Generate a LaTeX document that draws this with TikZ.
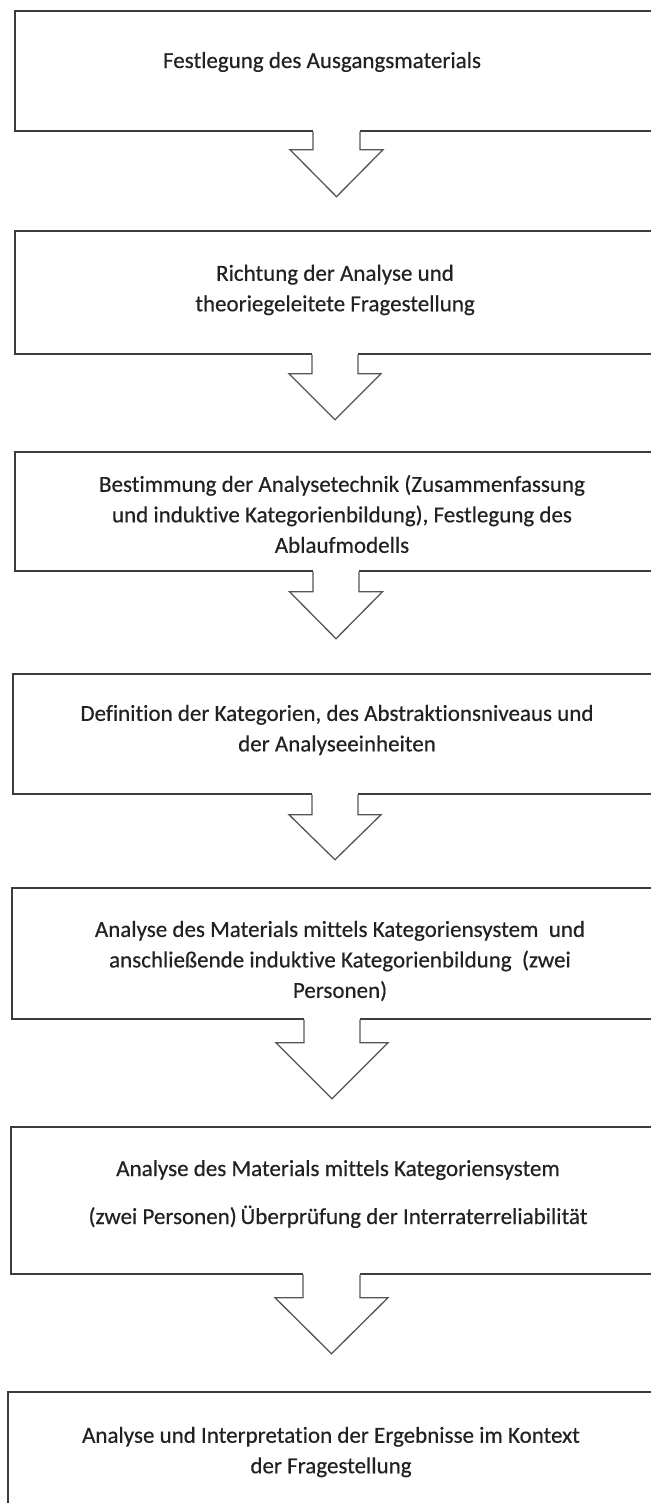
\documentclass[tikz,border=0pt]{standalone}
\usepackage{fontspec}
\setmainfont[Ligatures={NoCommon}, FakeBold=0.4]{Carlito}
\usetikzlibrary{calc}
\definecolor{boxline}{HTML}{3C3C3C}
\definecolor{arrline}{HTML}{555555}
\definecolor{txtcol}{HTML}{222222}
\tikzset{
  stepbox/.style={draw=boxline, line width=1.7pt, fill=white, rectangle, inner sep=0pt, anchor=north west},
  steptext/.style={text=txtcol, align=center, inner sep=0pt,
    font=\fontsize{23}{30.5}\selectfont},
  blockarr/.style={draw=arrline, line width=1.3pt, line join=miter, fill=white},
}
% #1 top-centre coordinate, #2 stem half width, #3 stem height, #4 head half width, #5 head height
\newcommand\BlockArrow[5]{%
  \fill[white] ($(#1)+({-#2},-2)$) rectangle ($(#1)+(#2,#3)$);
  \draw[blockarr] ($(#1)+({-#2},0)$) -- ++(0,#3) -- ++({#2-#4},0) -- ++(#4,#5)
     -- ++(#4,{-#5}) -- ++({#2-#4},0) -- ++(0,{-#3});
}
\begin{document}
\begin{tikzpicture}[x=1pt,y=-1pt]
\useasboundingbox[fill=white] (0,0) rectangle (650,1503);

% boxes
\node[stepbox, minimum width=680pt, minimum height=120pt] (b1) at (14,10) {};
\node[stepbox, minimum width=680pt, minimum height=123pt] (b2) at (14,230) {};
\node[stepbox, minimum width=680pt, minimum height=119pt] (b3) at (14,451) {};
\node[stepbox, minimum width=680pt, minimum height=120pt] (b4) at (12,673) {};
\node[stepbox, minimum width=680pt, minimum height=131pt] (b5) at (11,887) {};
\node[stepbox, minimum width=680pt, minimum height=147pt] (b6) at (10,1126) {};
\node[stepbox, minimum width=680pt, minimum height=140pt] (b7) at (7,1391) {};

% texts
\node[steptext] (t1) at (322,62) {Festlegung des Ausgangsmaterials};
\node[steptext] (t2) at (335,290) {Richtung der Analyse und\\theoriegeleitete Fragestellung};
\node[steptext] (t3) at (342,514) {Bestimmung der Analysetechnik (Zusammenfassung\\und induktive Kategorienbildung), Festlegung des\\Ablaufmodells};
\node[steptext] (t4) at (337,730) {Definition der Kategorien, des Abstraktionsniveaus und\\der Analyseeinheiten};
\node[steptext] (t5) at (340,961) {Analyse des Materials mittels Kategoriensystem \ und\\anschließende induktive Kategorienbildung \ (zwei\\Personen)};
\node[steptext] (t6) at (338,1194) {Analyse des Materials mittels Kategoriensystem\\[17.5pt](zwei Personen)\,Überprüfung der Interraterreliabilität};
\node[steptext] (t7) at (331,1452) {Analyse und Interpretation der Ergebnisse im Kontext\\der Fragestellung};

% connectors (block arrows) from each box's lower edge
\coordinate (a1) at ($(b1.south west)+(322.5,0)$);
\coordinate (a2) at ($(b2.south west)+(321,0)$);
\coordinate (a3) at ($(b3.south west)+(322,0)$);
\coordinate (a4) at ($(b4.south west)+(323,0)$);
\coordinate (a5) at ($(b5.south west)+(321,0)$);
\coordinate (a6) at ($(b6.south west)+(321.5,0)$);
\BlockArrow{a1}{23.5}{18}{46.5}{47}
\BlockArrow{a2}{23}{19}{46}{46}
\BlockArrow{a3}{23}{20}{46.5}{47}
\BlockArrow{a4}{23}{20}{46}{45}
\BlockArrow{a5}{28}{23}{56}{56}
\BlockArrow{a6}{28.5}{23}{56.5}{56}
\end{tikzpicture}
\end{document}
